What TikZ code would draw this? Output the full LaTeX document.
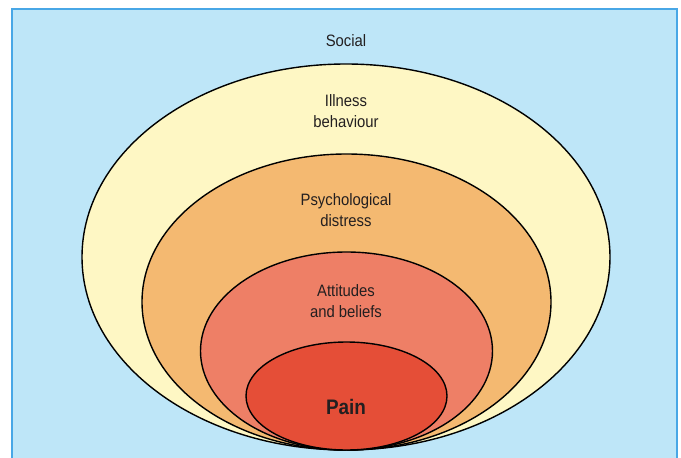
\documentclass[tikz,border=0pt]{standalone}
\usepackage{fontspec}
\setmainfont[FakeStretch=0.9]{Liberation Sans}
\definecolor{bgblue}{HTML}{BEE6F8}
\definecolor{bgedge}{HTML}{48A7E6}
\definecolor{cyellow}{HTML}{FEF7C4}
\definecolor{corange}{HTML}{F4B971}
\definecolor{csalmon}{HTML}{EE7F66}
\definecolor{cred}{HTML}{E54E37}
\definecolor{txt}{HTML}{231F20}
\begin{document}
\begin{tikzpicture}[x=1pt,y=-1pt,
  ring/.style={draw=black,line width=1.4pt},
  lbl/.style={text=txt,align=center,font=\fontsize{16.5}{21}\selectfont,inner sep=0pt}]
\useasboundingbox (0,0) rectangle (681,458);
\fill[white] (0,0) rectangle (681,458);
\filldraw[fill=bgblue,draw=bgedge,line width=1.5pt] (12,9) rectangle (677,470);
\begin{scope}
\clip (12.7,9.7) rectangle (676.3,470);
\filldraw[ring,fill=cyellow] (346,257) ellipse [x radius=264,y radius=193];
\filldraw[ring,fill=corange] (346.5,302) ellipse [x radius=204.5,y radius=148];
\filldraw[ring,fill=csalmon] (346.5,351) ellipse [x radius=146,y radius=99];
\filldraw[ring,fill=cred] (346.5,396) ellipse [x radius=100.5,y radius=54];
\end{scope}
\node[lbl] (social) at (346,41) {Social};
\node[lbl] (illness) at (346,111.5) {Illness\\behaviour};
\node[lbl] (psych) at (346,210.5) {Psychological\\distress};
\node[lbl] (att) at (346,301.5) {Attitudes\\and beliefs};
\node[lbl,font=\fontsize{21}{24}\bfseries\selectfont] (pain) at (346,407) {Pain};
\end{tikzpicture}
\end{document}
